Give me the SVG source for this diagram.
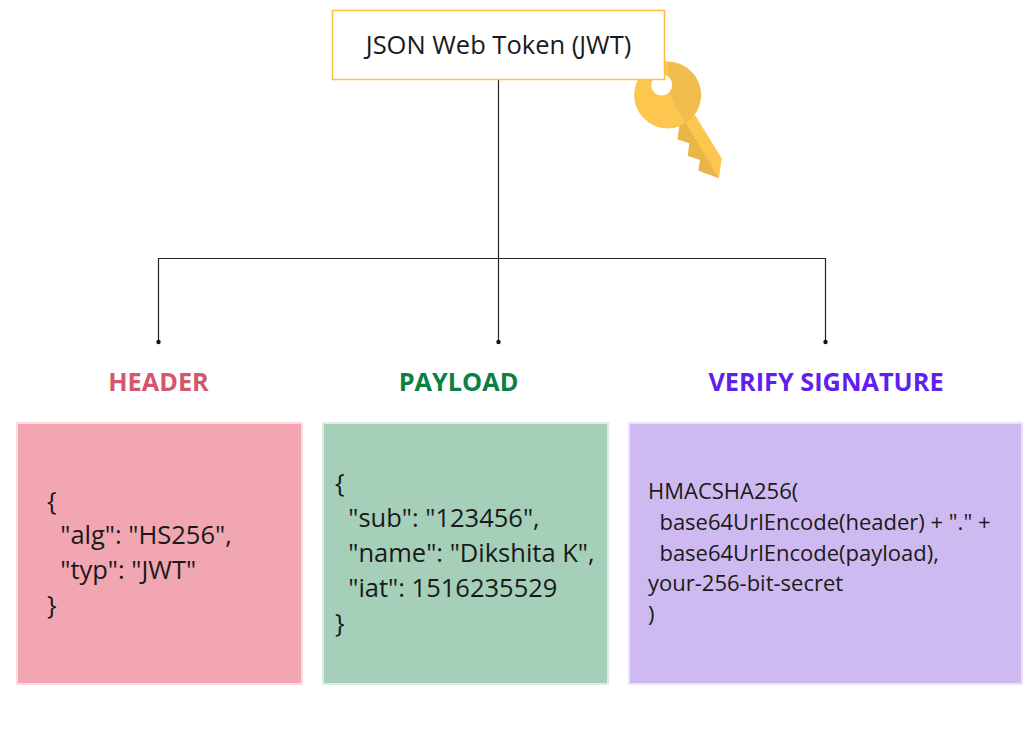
<svg xmlns="http://www.w3.org/2000/svg" width="1035" height="734" viewBox="0 0 1035 734">
<defs>
<marker id="dot" markerUnits="userSpaceOnUse" markerWidth="6" markerHeight="6" refX="3" refY="3"><circle cx="3" cy="3" r="2.200" fill="#111"/></marker>
</defs>
<style>
text{font-family:"Open Sans","Noto Sans","DejaVu Sans",sans-serif;fill:#1a1a1a}
.conn{fill:none;stroke:#222;stroke-width:1.200}
.title{font-weight:700;font-size:25.300px;text-anchor:middle}
.box{stroke-width:2}
.code{font-size:25.500px}
.sig{font-size:22px}
</style>
<rect width="1035" height="734" fill="#fff"/>
<g id="key">
<path d="M680 122L695 115L721.700 158.300L719 178.300Z" fill="#fdc64f"/>
<path d="M680 122L685 121.700L719 178.300L698.300 170.700L700 160L687.700 156L689.300 143.300L677.300 139.300Z" fill="#e9b748"/>
<circle cx="667.700" cy="95" r="33" fill="#fdc64f" stroke="#f7c250" stroke-width="1"/>
<path d="M667.700 62A33 33 0 0 1 685 123L670 95Z" fill="#f2bd4e"/>
<circle cx="661.700" cy="85" r="10.500" fill="#fff"/>
</g>
<g id="connectors">
<path class="conn" d="M498.500 80V342" marker-end="url(#dot)"/>
<path class="conn" d="M158.500 342V258.500H825.500V342" marker-start="url(#dot)" marker-end="url(#dot)"/>
</g>
<g id="root">
<rect x="332.500" y="10.500" width="332" height="69" fill="#fff" stroke="#fbbf3f" stroke-width="1.500"/>
<text x="498.500" y="54" font-size="25.500" text-anchor="middle">JSON Web Token (JWT)</text>
</g>
<g id="header">
<text class="title" x="158.500" y="391" style="fill:#d4566b">HEADER</text>
<rect class="box" x="17" y="423" width="285" height="261" fill="#f2a6b1" stroke="#f9dde1"/>
<text class="code"><tspan x="47" y="510">{</tspan><tspan x="47" y="544" xml:space="preserve">  "alg": "HS256",</tspan><tspan x="47" y="579" xml:space="preserve">  "typ": "JWT"</tspan><tspan x="47" y="614">}</tspan></text>
</g>
<g id="payload">
<text class="title" x="458.500" y="391" style="fill:#0b8043">PAYLOAD</text>
<rect class="box" x="323" y="423" width="285" height="261" fill="#a5cfb8" stroke="#dcede3"/>
<text class="code"><tspan x="335" y="492">{</tspan><tspan x="335" y="527" xml:space="preserve">  "sub": "123456",</tspan><tspan x="335" y="562" xml:space="preserve">  "name": "Dikshita K",</tspan><tspan x="335" y="597" xml:space="preserve">  "iat": 1516235529</tspan><tspan x="335" y="632">}</tspan></text>
</g>
<g id="signature">
<text class="title" x="826" y="391" style="fill:#5f1fef">VERIFY SIGNATURE</text>
<rect class="box" x="629" y="423" width="393" height="261" fill="#cebaf0" stroke="#ebe3f9"/>
<text class="sig"><tspan x="648" y="499">HMACSHA256(</tspan><tspan x="648" y="530" xml:space="preserve">  base64UrlEncode(header) + "." +</tspan><tspan x="648" y="561" xml:space="preserve">  base64UrlEncode(payload),</tspan><tspan x="648" y="591">your-256-bit-secret</tspan><tspan x="648" y="622">)</tspan></text>
</g>
</svg>
